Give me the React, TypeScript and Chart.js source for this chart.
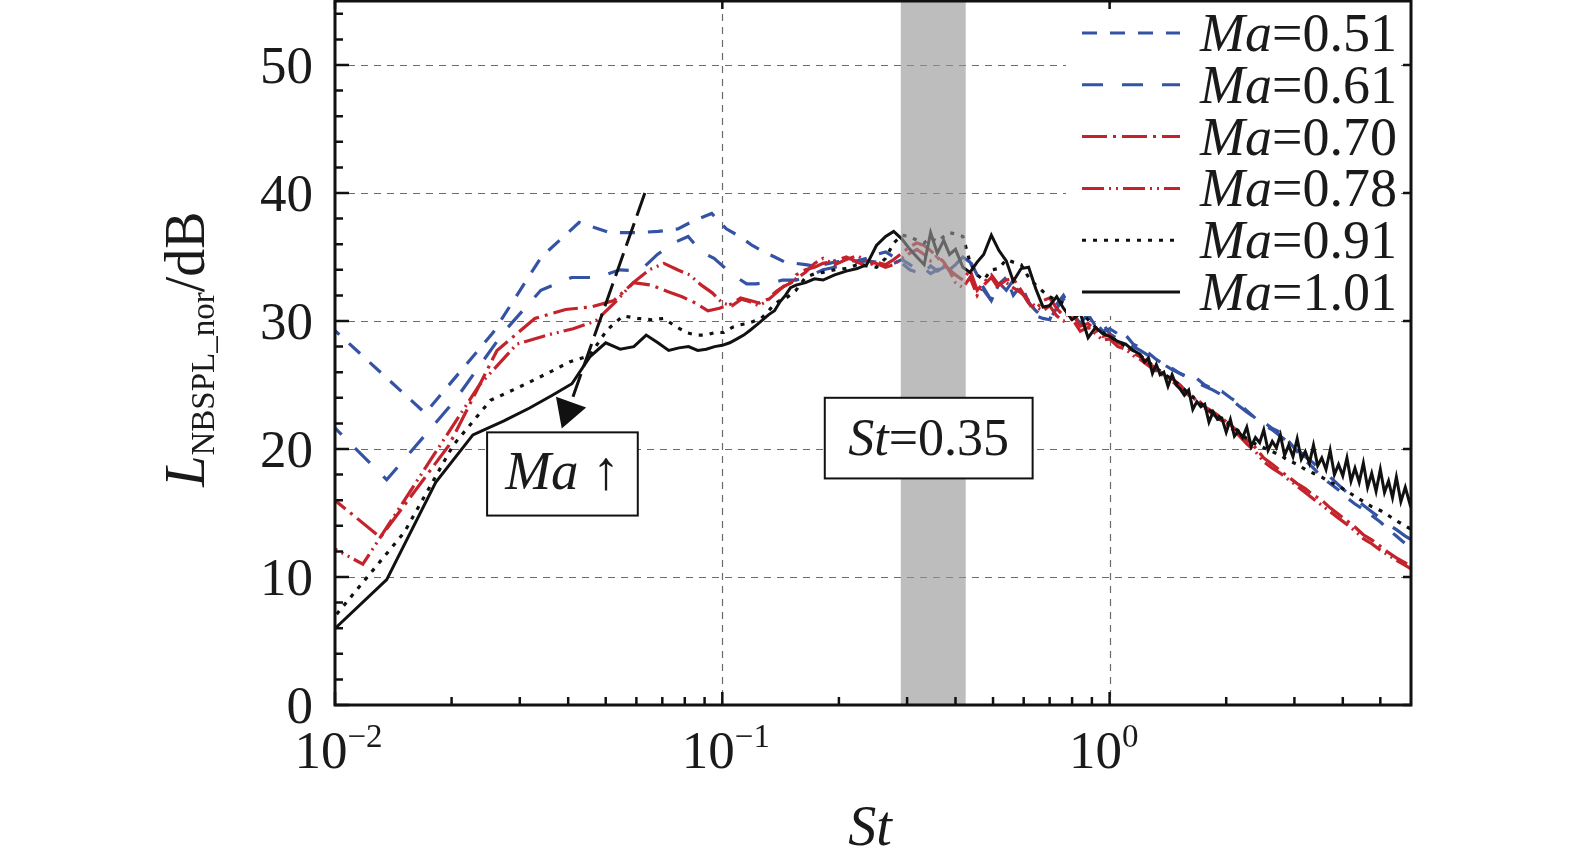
import { useEffect, useRef } from "react"
import { Chart, registerables } from "chart.js"

Chart.register(...registerables)

const SERIF = '"Liberation Serif", "DejaVu Serif", "Times New Roman", serif'

// Legend labels (Mach number)
const MACH = ["0.51", "0.61", "0.70", "0.78", "0.91", "1.01"]

// Strouhal numbers: each Mach number has its own low-frequency grid,
// above St = 0.15 the curves are read on a shared grid
const ST_LOW_051 = [0.0085, 0.0171, 0.0256, 0.0341, 0.0427, 0.0512, 0.0597, 0.0683, 0.0768, 0.0853, 0.0939, 0.1024, 0.111, 0.1195, 0.128, 0.1365, 0.145]
const ST_LOW_061 = [0.0068, 0.0136, 0.0204, 0.0272, 0.034, 0.0408, 0.0476, 0.0544, 0.0612, 0.068, 0.0748, 0.0816, 0.0884, 0.0952, 0.102, 0.109, 0.1156, 0.1224, 0.129, 0.136, 0.143, 0.15]
const ST_LOW_070 = [0.00656, 0.0131, 0.0197, 0.0262, 0.0328, 0.0394, 0.0459, 0.0525, 0.059, 0.0656, 0.0722, 0.0787, 0.0853, 0.0918, 0.0984, 0.105, 0.1115, 0.118, 0.1246, 0.131, 0.1377, 0.144, 0.151]
const ST_LOW_078 = [0.00589, 0.0118, 0.0177, 0.0236, 0.0295, 0.0353, 0.0412, 0.0471, 0.053, 0.0589, 0.0648, 0.0707, 0.0766, 0.0824, 0.0883, 0.0942, 0.1001, 0.106, 0.112, 0.118, 0.124, 0.1296, 0.1355, 0.1413, 0.147]
const ST_LOW_091 = [0.0101, 0.0151, 0.0202, 0.0252, 0.0302, 0.0353, 0.0403, 0.0454, 0.0504, 0.0554, 0.0605, 0.0655, 0.0706, 0.0756, 0.0806, 0.0857, 0.0907, 0.0958, 0.1008, 0.106, 0.111, 0.116, 0.121, 0.126, 0.131, 0.136, 0.141, 0.146, 0.151]
const ST_LOW_101 = [0.0091, 0.0136, 0.0182, 0.0227, 0.0273, 0.0318, 0.0364, 0.0409, 0.0455, 0.05, 0.0545, 0.0591, 0.0636, 0.0682, 0.0727, 0.0773, 0.0818, 0.0864, 0.0909, 0.0955, 0.1, 0.1045, 0.1091, 0.1136, 0.1182, 0.1227, 0.1273, 0.1318, 0.1364, 0.1409, 0.1455, 0.15]

const ST_HIGH = [
  0.155, 0.164, 0.173, 0.182,
  0.195, 0.209, 0.223, 0.236, 0.25, 0.264, 0.277, 0.291, 0.305, 0.318,
  0.332, 0.345, 0.359, 0.373, 0.386, 0.4,
  0.418, 0.436, 0.455, 0.473, 0.495, 0.518, 0.541, 0.564, 0.591, 0.618,
  0.645, 0.673, 0.7, 0.73, 0.76, 0.8, 0.84, 0.88, 0.92, 0.96,
  1.0, 1.05, 1.1, 1.15, 1.2, 1.26, 1.32, 1.38, 1.45, 1.52,
  1.6, 1.68, 1.76, 1.85, 1.95, 2.05, 2.15, 2.26, 2.38, 2.5,
  2.63, 2.76, 2.9, 3.05, 3.2, 3.36, 3.53, 3.71, 3.9, 4.1,
  4.3, 4.52, 4.75, 5.0, 5.25, 5.5, 5.8, 6.1,
]
// Ma=1.01 is read more densely above St = 1.2 (noisy band)
const ST_TAIL_101 = [
  1.2, 1.23, 1.26, 1.29, 1.32, 1.35, 1.38, 1.415, 1.45, 1.485,
  1.52, 1.56, 1.6, 1.64, 1.68, 1.72, 1.76, 1.805, 1.85, 1.9,
  1.95, 2.0, 2.05, 2.1, 2.15, 2.205, 2.26, 2.32, 2.38, 2.44,
  2.5, 2.565, 2.63, 2.695, 2.76, 2.83, 2.9, 2.975, 3.05, 3.125,
  3.2, 3.28, 3.36, 3.445, 3.53, 3.62, 3.71, 3.805, 3.9, 4.0,
  4.1, 4.2, 4.3, 4.41, 4.52, 4.635, 4.75, 4.875, 5.0, 5.125,
  5.25, 5.375, 5.5, 5.65, 5.8, 5.95, 6.1,
]

// L_NBSPL_nor in dB
const DB_LOW_051 = [31.2, 22.8, 29.1, 35.0, 37.7, 36.9, 36.9, 37.0, 37.2, 37.9, 38.4, 37.2, 36.6, 35.9, 35.4, 35.0, 34.6]
const DB_LOW_061 = [26.7, 17.6, 23.8, 29.1, 32.4, 33.4, 33.4, 34.0, 33.9, 35.2, 36.1, 36.6, 35.4, 34.9, 34.1, 33.4, 32.9, 32.9, 33.0, 33.0, 33.2, 33.2]
const DB_LOW_070 = [20.5, 13.1, 20.3, 27.7, 30.2, 30.9, 31.1, 31.6, 33.0, 32.8, 32.3, 31.9, 31.4, 30.8, 31.0, 31.3, 31.8, 31.6, 31.4, 31.7, 32.3, 32.7, 33.0]
const DB_LOW_078 = [16.0, 11.0, 19.2, 25.0, 28.2, 28.9, 29.4, 30.0, 31.5, 33.0, 34.0, 34.5, 34.0, 33.6, 32.8, 32.2, 31.4, 31.2, 31.7, 31.5, 31.2, 31.5, 32.0, 32.5, 32.9]
const DB_LOW_091 = [7.1, 13.5, 20.3, 23.8, 24.9, 25.9, 26.8, 27.3, 29.3, 30.4, 30.2, 30.1, 30.2, 29.6, 29.1, 28.9, 28.9, 29.1, 29.1, 29.5, 29.7, 29.8, 30.0, 30.2, 30.7, 31.3, 31.6, 31.8, 32.1]
const DB_LOW_101 = [4.8, 9.8, 17.4, 21.1, 22.2, 23.2, 24.2, 25.1, 27.2, 28.3, 27.8, 28.0, 28.9, 28.3, 27.7, 27.9, 28.0, 27.7, 27.8, 28.0, 28.1, 28.3, 28.6, 28.9, 29.3, 29.7, 30.1, 30.5, 30.8, 31.5, 32.0, 32.6]

const DB_HIGH_051 = [
  34.5, 34.4, 34.3, 34.4,
  34.6, 34.7, 34.7, 34.9, 35.2, 35.4, 35.0, 34.5, 34.0, 33.8,
  34.1, 33.7, 34.0, 34.3, 34.0, 34.4,
  35.0, 34.7, 33.6, 32.4, 31.6, 32.9, 33.4, 32.0, 32.8, 31.5,
  30.4, 30.2, 30.1, 31.3, 32.0, 30.8, 29.7, 30.5, 29.6, 29.8,
  29.0, 28.6, 28.9, 28.2, 27.9, 27.5, 27.0, 26.6, 26.3, 25.9,
  25.6, 25.5, 25.0, 24.7, 24.5, 24.0, 23.6, 23.0, 22.4, 22.1,
  21.6, 21.3, 20.6, 19.8, 19.1, 18.5, 17.8, 17.3, 16.8, 16.2,
  15.7, 15.3, 14.8, 14.3, 13.7, 13.2, 12.6, 12.2,
]
const DB_HIGH_061 = [
  33.2, 33.4, 33.7, 34.0,
  34.2, 34.4, 34.6, 34.7, 34.6, 34.3, 34.5, 34.8, 34.4, 34.0,
  33.8, 34.3, 33.9, 34.2, 34.0, 34.4,
  35.0, 34.6, 33.4, 32.6, 31.6, 33.0, 32.4, 33.2, 32.3, 31.4,
  30.8, 30.3, 30.1, 31.0, 31.7, 30.6, 29.8, 30.6, 29.9, 29.2,
  29.4, 29.0, 28.6, 28.0, 27.7, 27.3, 26.9, 26.6, 26.2, 25.9,
  25.5, 25.2, 24.9, 24.6, 24.2, 23.9, 23.4, 22.9, 22.4, 21.9,
  21.5, 21.0, 20.5, 20.0, 19.4, 18.9, 18.3, 17.8, 17.2, 16.6,
  16.1, 15.6, 15.1, 14.6, 14.1, 13.7, 13.2, 12.8,
]
const DB_HIGH_070 = [
  33.6, 34.0, 34.2, 34.5,
  34.7, 35.0, 34.6, 34.3, 34.6, 34.4, 34.8, 35.3, 35.8, 36.1,
  35.9, 35.5, 35.0, 34.4, 34.0, 33.6,
  33.2, 34.0, 32.4, 33.0, 33.6, 32.8, 33.2, 33.3, 32.4, 31.4,
  30.9, 31.6, 31.8, 31.0, 30.4, 30.6, 29.6, 29.8, 29.3, 28.8,
  28.9, 28.3, 28.1, 27.5, 27.2, 26.7, 26.3, 25.8, 25.5, 25.0,
  24.3, 23.9, 23.3, 22.9, 22.4, 21.9, 21.3, 20.7, 20.1, 19.3,
  18.8, 18.3, 17.8, 17.3, 16.9, 16.4, 16.0, 15.4, 14.9, 14.4,
  13.9, 13.3, 12.9, 12.4, 11.9, 11.5, 11.1, 10.7,
]
const DB_HIGH_078 = [
  33.3, 33.8, 34.5, 34.9,
  34.4, 34.8, 35.1, 34.7, 34.5, 34.2, 34.4, 34.9, 35.3, 35.6,
  35.2, 34.7, 35.1, 34.6, 33.9, 33.0,
  32.6, 33.4, 32.0, 32.8, 33.4, 32.5, 33.0, 32.6, 32.2, 31.6,
  31.1, 30.8, 31.2, 30.4, 30.0, 30.2, 29.2, 29.5, 29.0, 28.5,
  28.6, 28.0, 27.8, 27.3, 27.0, 26.5, 26.1, 25.7, 25.3, 24.8,
  24.2, 23.8, 23.2, 22.7, 22.2, 21.7, 21.1, 20.4, 19.8, 19.0,
  18.5, 18.1, 17.6, 17.1, 16.6, 16.1, 15.6, 15.1, 14.6, 14.1,
  13.6, 13.0, 12.6, 12.1, 11.7, 11.3, 10.9, 10.5,
]
const DB_HIGH_091 = [
  32.4, 33.4, 33.7, 33.8,
  34.0, 34.1, 34.4, 34.3, 34.2, 34.9, 36.1, 36.7, 36.6, 36.3,
  36.1, 36.5, 36.2, 36.6, 36.9, 36.8,
  36.6, 34.6, 33.6, 33.2, 34.0, 34.1, 34.8, 34.6, 34.4, 33.4,
  32.8, 32.3, 31.9, 31.6, 31.4, 31.4, 30.7, 30.1, 29.5, 29.1,
  28.8, 28.4, 28.0, 27.7, 27.3, 26.8, 26.3, 25.9, 25.4, 25.0,
  24.3, 23.8, 23.3, 22.8, 22.4, 21.9, 21.4, 20.8, 20.4, 20.1,
  19.8, 19.5, 19.1, 18.8, 18.4, 18.1, 17.8, 17.4, 17.1, 16.7,
  16.3, 15.9, 15.5, 15.2, 14.8, 14.4, 14.0, 13.6,
]
// Ma=1.01 from St = 0.155 to 1.15 on the shared grid
const DB_HIGH_101 = [
  32.8, 33.0, 33.3, 33.2,
  33.6, 33.9, 34.1, 34.4, 35.9, 36.6, 37.0, 36.4, 35.6, 35.0,
  34.4, 36.9, 35.3, 36.3, 35.2, 35.6,
  34.2, 33.8, 34.6, 35.2, 36.7, 35.5, 34.7, 33.1, 34.1, 34.2,
  32.5, 31.1, 31.2, 31.9, 31.0, 30.1, 30.6, 28.7, 29.5, 29.0,
  28.8, 28.4, 28.2, 27.7,
]
const DB_TAIL_101 = [
  27.4, 26.8, 27.1, 25.9, 26.6, 25.8, 26.0, 24.9, 25.8, 25.0,
  24.7, 24.2, 24.6, 23.1, 23.7, 23.3, 23.5, 22.1, 22.9, 22.3,
  22.4, 21.3, 22.3, 21.0, 21.4, 20.9, 21.7, 20.2, 20.9, 20.5,
  21.5, 19.9, 20.6, 20.1, 21.1, 19.5, 20.3, 19.4, 20.8, 19.2,
  19.8, 18.9, 20.3, 18.7, 19.3, 18.4, 19.9, 18.0, 18.8, 17.9,
  19.3, 17.5, 18.5, 17.4, 18.9, 17.0, 18.1, 16.7, 18.4, 16.6,
  17.5, 16.2, 17.8, 15.9, 17.0, 15.8, 16.9,
]

const ST_SERIES = [
  [...ST_LOW_051, ...ST_HIGH],
  [...ST_LOW_061, ...ST_HIGH],
  [...ST_LOW_070, ...ST_HIGH],
  [...ST_LOW_078, ...ST_HIGH],
  [...ST_LOW_091, ...ST_HIGH],
  [...ST_LOW_101, ...ST_HIGH.slice(0, DB_HIGH_101.length), ...ST_TAIL_101],
]
const DB_SERIES = [
  [...DB_LOW_051, ...DB_HIGH_051],
  [...DB_LOW_061, ...DB_HIGH_061],
  [...DB_LOW_070, ...DB_HIGH_070],
  [...DB_LOW_078, ...DB_HIGH_078],
  [...DB_LOW_091, ...DB_HIGH_091],
  [...DB_LOW_101, ...DB_HIGH_101, ...DB_TAIL_101],
]

const BLUE = "#3553a4"
const RED = "#c4232b"
const BLACK = "#111111"
const COLORS = [BLUE, BLUE, RED, RED, BLACK, BLACK]
const DASHES = [[15, 13], [21, 19], [25, 6, 3, 6], [22, 5, 2, 5, 2, 5], [4, 7], []]

// axes
const Y_TICKS = [0, 10, 20, 30, 40, 50]
const Y_MINOR = [2, 4, 6, 8, 12, 14, 16, 18, 22, 24, 26, 28, 32, 34, 36, 38, 42, 44, 46, 48, 52, 54]
const X_TICKS = [0.01, 0.1, 1]
const X_TICK_EXP = ["\u22122", "\u22121", "0"]
const X_MINOR = [0.02, 0.03, 0.04, 0.05, 0.06, 0.07, 0.08, 0.09, 0.2, 0.3, 0.4, 0.5, 0.6, 0.7, 0.8, 0.9, 2, 3, 4, 5]
const Y_GRID = [10, 20, 30, 40, 50]
const X_GRID = [0.1, 1]

// annotations (data units)
const BAND = [0.289, 0.425]
const ST_BOX = [0.1839, 0.6327, 17.7, 24.0]
const MA_BOX = [0.0247, 0.0605, 14.8, 21.3]
const ARROW_FROM = [0.0631, 40.0]
const ARROW_TO = [0.0385, 21.6]

type Part = { text: string; font: string; dy?: number }

function drawParts(ctx: CanvasRenderingContext2D, parts: Part[], x: number, y: number, center: boolean) {
  let w = 0
  for (const p of parts) {
    ctx.font = p.font
    w += ctx.measureText(p.text).width
  }
  let cx = center ? x - w / 2 : x
  for (const p of parts) {
    ctx.font = p.font
    ctx.fillText(p.text, cx, y + (p.dy || 0))
    cx += ctx.measureText(p.text).width
  }
}

const decor = {
  id: "decor",
  beforeDatasetsDraw(chart: any) {
    const { ctx, chartArea: a } = chart
    const x = chart.scales.x
    const y = chart.scales.y
    ctx.save()
    ctx.strokeStyle = "#6b6b6b"
    ctx.lineWidth = 1.2
    ctx.setLineDash([7, 6])
    ctx.beginPath()
    for (const v of Y_GRID) {
      const py = Math.round(y.getPixelForValue(v)) + 0.5
      ctx.moveTo(a.left, py)
      ctx.lineTo(a.right, py)
    }
    for (const v of X_GRID) {
      const px = Math.round(x.getPixelForValue(v)) + 0.5
      ctx.moveTo(px, a.top)
      ctx.lineTo(px, a.bottom)
    }
    ctx.stroke()
    ctx.restore()
  },
  afterDatasetsDraw(chart: any) {
    const { ctx, chartArea: a } = chart
    const x = chart.scales.x
    const y = chart.scales.y
    ctx.save()

    // St = 0.35 band
    const b0 = x.getPixelForValue(BAND[0])
    const b1 = x.getPixelForValue(BAND[1])
    ctx.fillStyle = "rgba(150,150,150,0.63)"
    ctx.fillRect(b0, a.top, b1 - b0, a.bottom - a.top)

    // legend
    ctx.fillStyle = "#fff"
    ctx.fillRect(a.right - 345, a.top + 3, 334, 312)
    for (let i = 0; i < MACH.length; i++) {
      const ry = 33 + i * 51.8
      ctx.strokeStyle = COLORS[i]
      ctx.lineWidth = 3
      ctx.lineCap = "butt"
      ctx.setLineDash(DASHES[i])
      ctx.beginPath()
      ctx.moveTo(a.right - 329, ry)
      ctx.lineTo(a.right - 231, ry)
      ctx.stroke()
      ctx.fillStyle = "#1a1a1a"
      drawParts(ctx, [
        { text: "Ma", font: `italic 54px ${SERIF}` },
        { text: "=" + MACH[i], font: `54px ${SERIF}` },
      ], a.right - 211, ry + 18, false)
    }
    ctx.setLineDash([])

    // boxes
    const boxes: [number[], Part[], number][] = [
      [ST_BOX, [{ text: "St", font: `italic 52px ${SERIF}` }, { text: "=0.35", font: `52px ${SERIF}` }], 17],
      [MA_BOX, [{ text: "Ma", font: `italic 55px ${SERIF}` }, { text: " \u2191", font: `55px ${SERIF}` }], 15],
    ]
    for (const [bx, parts, off] of boxes) {
      const l = x.getPixelForValue(bx[0])
      const r = x.getPixelForValue(bx[1])
      const t = y.getPixelForValue(bx[3])
      const btm = y.getPixelForValue(bx[2])
      ctx.fillStyle = "#fff"
      ctx.fillRect(l, t, r - l, btm - t)
      ctx.strokeStyle = "#111"
      ctx.lineWidth = 2
      ctx.strokeRect(l, t, r - l, btm - t)
      ctx.fillStyle = "#1a1a1a"
      drawParts(ctx, parts, (l + r) / 2, (t + btm) / 2 + off, true)
    }

    // Ma arrow
    const ax0 = x.getPixelForValue(ARROW_FROM[0])
    const ay0 = y.getPixelForValue(ARROW_FROM[1])
    const ax1 = x.getPixelForValue(ARROW_TO[0])
    const ay1 = y.getPixelForValue(ARROW_TO[1])
    const len = Math.hypot(ax1 - ax0, ay1 - ay0)
    const ux = (ax1 - ax0) / len
    const uy = (ay1 - ay0) / len
    const hx = ax1 - ux * 28
    const hy = ay1 - uy * 28
    ctx.strokeStyle = "#111"
    ctx.lineWidth = 3
    ctx.setLineDash([24, 8])
    ctx.beginPath()
    ctx.moveTo(ax0, ay0)
    ctx.lineTo(hx, hy)
    ctx.stroke()
    ctx.setLineDash([])
    ctx.fillStyle = "#111"
    ctx.beginPath()
    ctx.moveTo(ax1, ay1)
    ctx.lineTo(hx - uy * 16, hy + ux * 16)
    ctx.lineTo(hx + uy * 16, hy - ux * 16)
    ctx.closePath()
    ctx.fill()

    // frame and ticks
    ctx.strokeStyle = "#111"
    ctx.lineWidth = 3
    ctx.strokeRect(a.left, a.top, a.right - a.left, a.bottom - a.top)
    ctx.lineWidth = 2.5
    ctx.beginPath()
    for (const v of Y_TICKS) {
      const py = y.getPixelForValue(v)
      ctx.moveTo(a.left, py)
      ctx.lineTo(a.left + 14, py)
      ctx.moveTo(a.right, py)
      ctx.lineTo(a.right - 8, py)
    }
    for (const v of Y_MINOR) {
      const py = y.getPixelForValue(v)
      ctx.moveTo(a.left, py)
      ctx.lineTo(a.left + 8, py)
    }
    for (const v of X_TICKS) {
      const px = x.getPixelForValue(v)
      ctx.moveTo(px, a.bottom)
      ctx.lineTo(px, a.bottom - 13)
      ctx.moveTo(px, a.top)
      ctx.lineTo(px, a.top + 8)
    }
    for (const v of X_MINOR) {
      const px = x.getPixelForValue(v)
      ctx.moveTo(px, a.bottom)
      ctx.lineTo(px, a.bottom - 8)
    }
    ctx.stroke()

    // tick labels
    ctx.fillStyle = "#1a1a1a"
    ctx.textAlign = "right"
    ctx.font = `53px ${SERIF}`
    for (const v of Y_TICKS) {
      ctx.fillText(String(v), a.left - 22, y.getPixelForValue(v) + 18)
    }
    ctx.textAlign = "left"
    X_TICKS.forEach((v, i) => {
      const px = x.getPixelForValue(v)
      ctx.font = `53px ${SERIF}`
      const w10 = ctx.measureText("10").width
      drawParts(ctx, [
        { text: "10", font: `53px ${SERIF}` },
        { text: X_TICK_EXP[i], font: `33px ${SERIF}`, dy: -21 },
      ], px - 14 - w10 / 2, 768, false)
    })

    // axis titles
    drawParts(ctx, [{ text: "St", font: `italic 56px ${SERIF}` }], (a.left + a.right) / 2 - 3, 845, true)
    ctx.translate(204, 349)
    ctx.rotate(-Math.PI / 2)
    drawParts(ctx, [
      { text: "L", font: `italic 56px ${SERIF}` },
      { text: "NBSPL_nor", font: `33px ${SERIF}`, dy: 10 },
      { text: "/dB", font: `56px ${SERIF}` },
    ], 0, 0, true)
    ctx.restore()
  },
}

export default function App() {
  const canvasRef = useRef<HTMLCanvasElement>(null)

  useEffect(() => {
    if (!canvasRef.current) return
    const chart = new Chart(canvasRef.current, {
      type: "line",
      data: {
        datasets: MACH.map((m, i) => ({
          label: "Ma=" + m,
          data: ST_SERIES[i].map((st, j) => ({ x: st, y: DB_SERIES[i][j] })),
          borderColor: COLORS[i],
          borderWidth: i === 5 ? 3 : 3.2,
          borderDash: DASHES[i],
          borderCapStyle: "butt",
          borderJoinStyle: "miter",
          pointRadius: 0,
          tension: 0,
          fill: false,
          order: MACH.length - 1 - i,
        })),
      },
      options: {
        animation: false,
        responsive: true,
        maintainAspectRatio: false,
        layout: { padding: { left: 335, right: 164, top: 1, bottom: 161 } },
        plugins: {
          legend: { display: false },
          tooltip: { enabled: false },
        },
        scales: {
          x: { type: "logarithmic", min: 0.01, max: 6, display: false },
          y: { type: "linear", min: 0, max: 55, display: false },
        },
      },
      plugins: [decor],
    })
    return () => chart.destroy()
  }, [])

  return (
    <div style={{ position: "fixed", left: 0, top: 0, width: 1575, height: 866, background: "#fff" }}>
      <canvas ref={canvasRef} />
    </div>
  )
}
